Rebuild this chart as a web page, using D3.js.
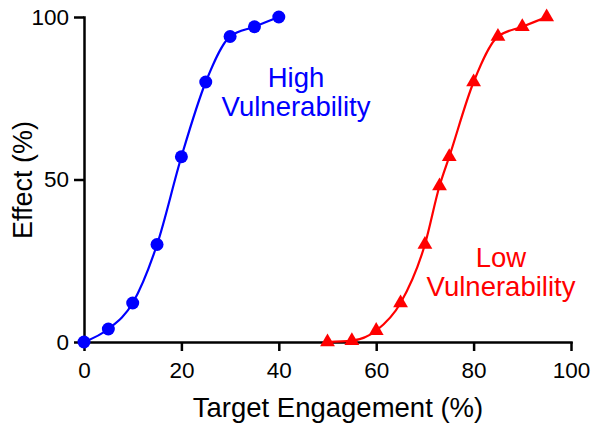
<!DOCTYPE html>
<html>
<head>
<meta charset="utf-8">
<script src="https://cdn.jsdelivr.net/npm/d3@7"></script>
<style>
  body { margin: 0; background: #fff; }
  svg text { font-family: "Liberation Sans", Arial, sans-serif; }
</style>
</head>
<body>
<svg id="chart" width="601" height="432"></svg>
<script>
// values
var highX = [0, 5, 10, 15, 20, 25, 30, 35, 40];
var highY = [0, 4, 12, 30, 57, 80, 94, 97, 100];
var lowX = [50, 55, 60, 65, 70, 73, 75, 80, 85, 90, 95];
var lowY = [0, 0.4, 3.5, 12, 30, 48, 57, 80, 94, 97, 100];
var xTicks = [0, 20, 40, 60, 80, 100];
var yTicks = [0, 50, 100];

var svg = d3.select("#chart");

var x = d3.scaleLinear().domain([0, 100]).range([84, 571]);
var y = d3.scaleLinear().domain([0, 100]).range([342, 17]);

var high = highX.map(function(d, i) { return {x: d, y: highY[i]}; });
var low = lowX.map(function(d, i) { return {x: d, y: lowY[i]}; });

// axes
var xAxis = svg.append("g")
    .attr("transform", "translate(0," + y(0) + ")")
    .call(d3.axisBottom(x).tickValues(xTicks).tickSize(9).tickSizeOuter(0).tickPadding(11));

var yAxis = svg.append("g")
    .attr("transform", "translate(" + x(0) + ",0)")
    .call(d3.axisLeft(y).tickValues(yTicks).tickSize(10).tickSizeOuter(0).tickPadding(5));

[xAxis, yAxis].forEach(function(a) {
  a.select(".domain").attr("stroke", "#000").attr("stroke-width", 2.5).attr("stroke-linecap", "square");
  a.selectAll(".tick line").attr("stroke", "#000").attr("stroke-width", 2.5);
  a.selectAll(".tick text")
    .attr("fill", "#000")
    .style("font-size", "22.5px")
    .style("font-family", "'Liberation Sans', Arial, sans-serif");
});

// axis titles
svg.append("text")
    .attr("x", 338)
    .attr("y", 417)
    .attr("text-anchor", "middle")
    .style("font-size", "27.5px")
    .text("Target Engagement (%)");

svg.append("text")
    .attr("transform", "translate(32,180) rotate(-90)")
    .attr("text-anchor", "middle")
    .style("font-size", "27px")
    .text("Effect (%)");

// curves
var line = d3.line()
    .x(function(d) { return x(d.x); })
    .y(function(d) { return y(d.y); })
    .curve(d3.curveMonotoneX);

svg.append("path")
    .datum(high)
    .attr("d", line)
    .attr("fill", "none")
    .attr("stroke", "#0000ff")
    .attr("stroke-width", 2.2);

svg.append("path")
    .datum(low)
    .attr("d", line)
    .attr("fill", "none")
    .attr("stroke", "#ff0000")
    .attr("stroke-width", 2.2);

// markers
svg.append("g")
  .selectAll("circle")
  .data(high)
  .enter().append("circle")
    .attr("cx", function(d) { return x(d.x); })
    .attr("cy", function(d) { return y(d.y); })
    .attr("r", 6.5)
    .attr("fill", "#0000ff");

svg.append("g")
  .selectAll("path")
  .data(low)
  .enter().append("path")
    .attr("d", d3.symbol().type(d3.symbolTriangle).size(95))
    .attr("transform", function(d) { return "translate(" + x(d.x) + "," + y(d.y) + ")"; })
    .attr("fill", "#ff0000");

// labels
var highLabel = svg.append("text")
    .attr("text-anchor", "middle")
    .attr("fill", "#0000ff")
    .style("font-size", "27.5px");
highLabel.append("tspan").attr("x", 296).attr("y", 87).text("High");
highLabel.append("tspan").attr("x", 296).attr("y", 116).text("Vulnerability");

var lowLabel = svg.append("text")
    .attr("text-anchor", "middle")
    .attr("fill", "#ff0000")
    .style("font-size", "27.5px");
lowLabel.append("tspan").attr("x", 501).attr("y", 267).text("Low");
lowLabel.append("tspan").attr("x", 501).attr("y", 296).text("Vulnerability");
</script>
</body>
</html>
